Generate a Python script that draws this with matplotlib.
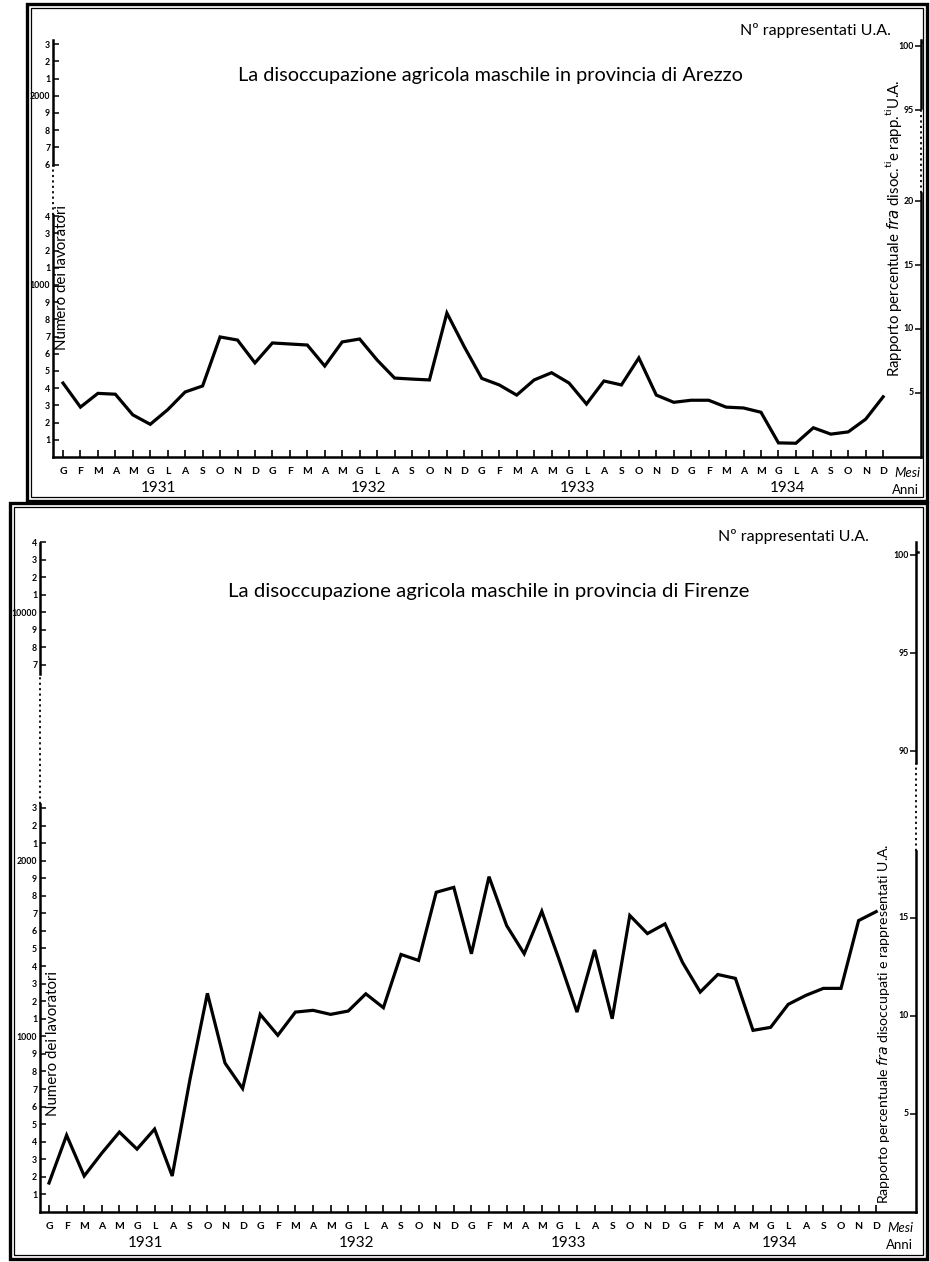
import matplotlib
matplotlib.use('Agg')
import matplotlib.pyplot as plt
from matplotlib.patches import Rectangle

plt.rcParams['font.family'] = ['Lato', 'DejaVu Sans']

# ---------------- data ----------------
months = ['G', 'F', 'M', 'A', 'M', 'G', 'L', 'A', 'S', 'O', 'N', 'D']
years = ['1931', '1932', '1933', '1934']

# Numero dei lavoratori disoccupati (mensile, 1931-1934)
arezzo = [430, 290, 370, 365, 245, 190, 275, 378, 413, 698, 680, 547,
          663, 657, 651, 529, 669, 686, 564, 459, 453, 448, 837, 640,
          457, 419, 360, 448, 490, 430, 308, 442, 419, 576, 360, 318,
          330, 330, 290, 285, 260, 82, 80, 170, 133, 146, 220, 350]
firenze = [165, 437, 205, 335, 455, 358, 472, 205, 750, 1245, 848, 703,
           1125, 1006, 1138, 1148, 1125, 1144, 1242, 1163, 1466, 1432, 1820, 1848,
           1470, 1909, 1631, 1470, 1712, 1432, 1138, 1492, 1100, 1688, 1585, 1640,
           1420, 1252, 1352, 1330, 1034, 1051, 1182, 1233, 1273, 1273, 1659, 1710]

# left-axis tick values (number of workers), with a broken scale
arezzo_left_ticks = list(range(100, 1500, 100)) + list(range(1600, 2400, 100))
firenze_left_ticks = list(range(100, 2400, 100)) + list(range(9700, 10500, 100))
# right-axis tick values (percentage)
arezzo_right_ticks = [5, 10, 15, 20, 95, 100]
firenze_right_ticks = [5, 10, 15, 90, 95, 100]

titles = ['La disoccupazione agricola maschile in provincia di Arezzo',
          'La disoccupazione agricola maschile in provincia di Firenze']
right_labels = [r'Rapporto percentuale $\mathit{fra}$ disoc.$^{\mathregular{ti}}$e rapp.$^{\mathregular{ti}}$U.A.',
                r'Rapporto percentuale $\mathit{fra}$ disoccupati e rappresentati U.A.']

W, H = 930, 1262
fig = plt.figure(figsize=(W / 100, H / 100), dpi=100)


def fx(x):
    return x / W


def fy(y):
    return 1 - y / H


def lbl(v):
    if v % 1000 == 0:
        return str(v)
    return str((v // 100) % 10)


panels = [
    dict(series=arezzo, lt=arezzo_left_ticks, rt=arezzo_right_ticks,
         box=(53, 921, 40, 457), lpp=0.172, rpp=12.8, lbreak=(1500, 100),
         rbreak=(50, -67.9), x0=63, dx=17.45,
         ldot=(1407, 1700), rdot=(20.6, 27.3),
         title=titles[0], ty=75, tx=490, tfs=14.3,
         ylab_xy=(62, 278), rlab_xy=(893, 228), rlab_fs=10.8,
         nr_xy=(815, 30), nr_line=(708, 921, 42),
         frame=(27, 927, 4, 501)),
    dict(series=firenze, lt=firenze_left_ticks, rt=firenze_right_ticks,
         box=(40, 916, 542, 1212), lpp=0.176, rpp=19.6, lbreak=(5000, -6586),
         rbreak=(50, -66.5), x0=49, dx=17.6,
         ldot=(2324, 3062), rdot=(18.4, 22.9),
         title=titles[1], ty=592, tx=489, tfs=14.7,
         ylab_xy=(53, 1044), rlab_xy=(883, 1024), rlab_fs=10.2,
         nr_xy=(793, 537), nr_line=(687, 918, 552),
         frame=(10, 927, 503, 1259)),
]

# overlay axes for frames (pixel coordinates)
ov = fig.add_axes([0, 0, 1, 1], zorder=-1)
ov.set_xlim(0, W)
ov.set_ylim(H, 0)
ov.axis('off')

for k, p in enumerate(panels):
    l, r, t, b = p['frame']
    ov.add_patch(Rectangle((l, t), r - l, b - t, fill=False, lw=2.4, ec='black'))
    ov.add_patch(Rectangle((l + 4, t + 4), r - l - 8, b - t - 8, fill=False, lw=0.9, ec='black'))

    L, R, T, B = p['box']
    ax = fig.add_axes([fx(L), fy(B), (R - L) / W, (B - T) / H])
    n = len(p['series'])
    x = list(range(n))
    ax.plot(x, p['series'], color='black', lw=2.3, solid_joinstyle='miter', zorder=3)

    ax.set_xlim((L - p['x0']) / p['dx'], (R - p['x0']) / p['dx'])
    ax.set_ylim(0, (B - T) / p['lpp'])

    # x axis
    ax.set_xticks(x)
    ax.set_xticklabels(months * len(years), fontsize=7.5, fontweight='bold')
    ax.tick_params(axis='x', direction='in', length=5, width=1.2, pad=7)
    for i, yr in enumerate(years):
        ax.annotate(yr, xy=(5.5 + 12 * i, 0), xycoords=ax.get_xaxis_transform(),
                    xytext=(0, -22.5), textcoords='offset points',
                    ha='center', va='center', fontsize=11)
    ax.annotate('Mesi', xy=(48.4, 0), xycoords=ax.get_xaxis_transform(),
                xytext=(0, -11.5), textcoords='offset points', ha='center',
                va='center', fontsize=9.5, style='italic')
    ax.annotate('Anni', xy=(48.3, 0), xycoords=ax.get_xaxis_transform(),
                xytext=(0, -23.5), textcoords='offset points', ha='center',
                va='center', fontsize=9.5)

    # left axis (broken)
    thr, off = p['lbreak']
    lpos = [v if v < thr else v + off for v in p['lt']]
    ax.set_yticks(lpos)
    ax.set_yticklabels([lbl(v) for v in p['lt']], fontsize=6.3, fontweight='bold')
    ax.tick_params(axis='y', direction='in', length=4, width=1.1, pad=2)

    for s in ['top', 'right', 'left']:
        ax.spines[s].set_visible(False)
    ax.spines['bottom'].set_linewidth(1.8)

    ymax = (B - T) / p['lpp']
    yt = ax.get_yaxis_transform()
    d0, d1 = p['ldot']
    ax.plot([0, 0], [0, d0], transform=yt, color='black', lw=1.8, clip_on=False)
    ax.plot([0, 0], [d0, d1], transform=yt, color='black', lw=1.3,
            ls=(0, (1.2, 1.8)), clip_on=False)
    ax.plot([0, 0], [d1, ymax], transform=yt, color='black', lw=1.8, clip_on=False)

    # right axis (broken)
    ax2 = ax.twinx()
    rmax = (B - T) / p['rpp']
    ax2.set_ylim(0, rmax)
    rthr, roff = p['rbreak']
    rpos = [v if v < rthr else v + roff for v in p['rt']]
    ax2.set_yticks(rpos)
    ax2.set_yticklabels([''] * len(rpos))
    ax2.tick_params(axis='y', direction='in', length=4, width=1.1)
    for s in ['top', 'right', 'left', 'bottom']:
        ax2.spines[s].set_visible(False)
    yt2 = ax2.get_yaxis_transform()
    for v, pos in zip(p['rt'], rpos):
        ax2.annotate(str(v), xy=(1, pos), xycoords=yt2, xytext=(-5, 0),
                     textcoords='offset points', ha='right', va='center',
                     fontsize=6.3, fontweight='bold')
    r0, r1 = p['rdot']
    ax2.plot([1, 1], [0, r0], transform=yt2, color='black', lw=1.8, clip_on=False)
    ax2.plot([1, 1], [r0, r1], transform=yt2, color='black', lw=1.3,
             ls=(0, (1.2, 1.8)), clip_on=False)
    ax2.plot([1, 1], [r1, rmax], transform=yt2, color='black', lw=1.8, clip_on=False)

    # texts
    fig.text(fx(p['tx']), fy(p['ty']), p['title'], ha='center', va='center',
             fontsize=p['tfs'])
    fig.text(fx(p['ylab_xy'][0]), fy(p['ylab_xy'][1]), 'Numero dei lavoratori',
             rotation=90, ha='center', va='center', fontsize=10.8)
    fig.text(fx(p['rlab_xy'][0]), fy(p['rlab_xy'][1]), right_labels[k],
             rotation=90, ha='center', va='center', fontsize=p['rlab_fs'])
    fig.text(fx(p['nr_xy'][0]), fy(p['nr_xy'][1]), 'Nº rappresentati U.A.',
             ha='center', va='center', fontsize=11.5)
    x1, x2, yl = p['nr_line']
    ov.plot([x1, x2], [yl, yl], color='black', lw=1.8)

fig.savefig('out.png', dpi=100)
